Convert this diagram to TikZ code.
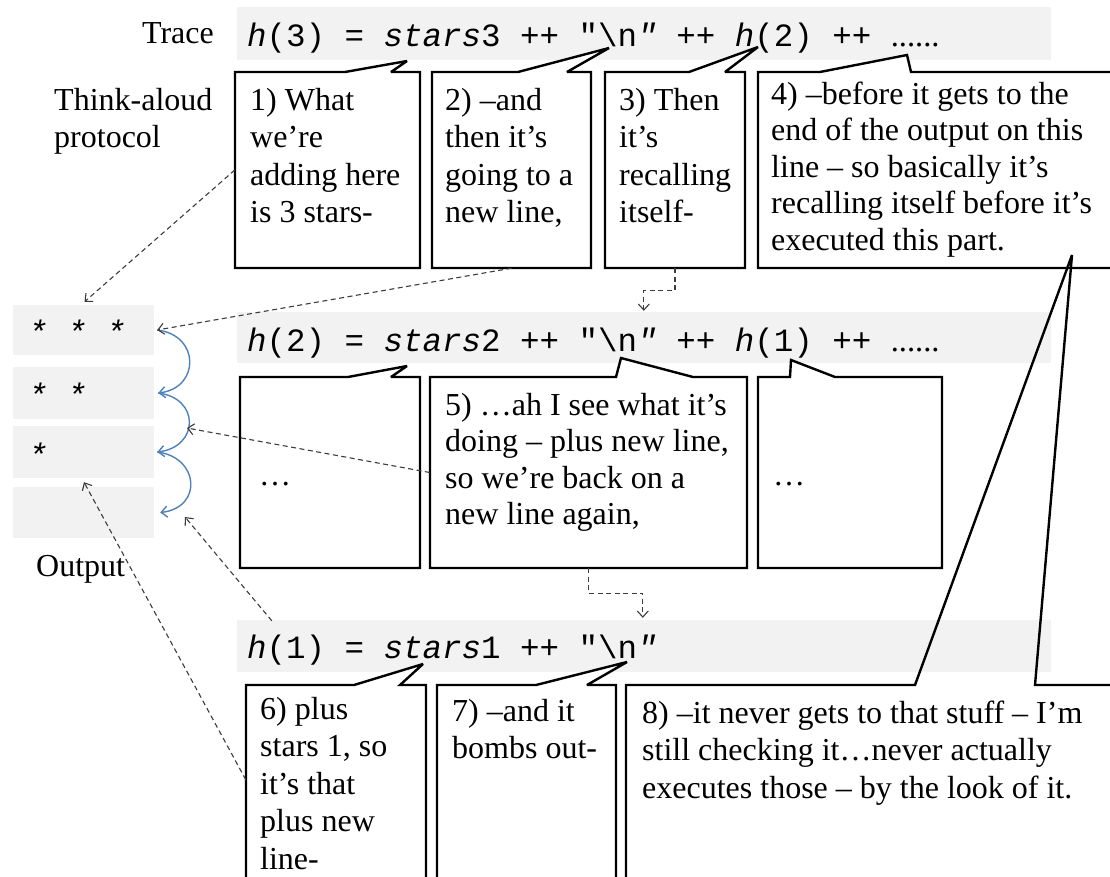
\documentclass[tikz,border=0pt]{standalone}
\usepackage{fontspec}
\setmainfont{Liberation Serif}
\setmonofont{Liberation Mono}
\usetikzlibrary{arrows.meta,calc,fit}

\definecolor{codegray}{RGB}{242,242,242}
\definecolor{arcblue}{RGB}{79,129,189}
\definecolor{dashgray}{RGB}{60,60,60}

% body text and code fonts
\newcommand\bodyfont{\fontsize{32}{37.5}\selectfont\rmfamily}
\newcommand\codefont{\fontsize{32.5}{37}\selectfont\ttfamily}
\newcommand\tlines[1]{\begin{tabular}[t]{@{}l@{}}#1\end{tabular}}

% speech bubble: name, x1, y1, x2, y2, wedge base 1, wedge base 2, tip x, tip y
\newcommand\bubble[9]{%
  \path[cline] (#2,#3) -- (#6,#3) -- (#8,#9) -- (#7,#3) -- (#4,#3) -- (#4,#5) -- (#2,#5) -- cycle;
  \node[frame, fit={(#2,#3) (#4,#5)}] (#1) {};
}

\begin{document}
\begin{tikzpicture}[x=1pt, y={(0pt,-1pt)},
  codebar/.style={fill=codegray, draw=none, inner sep=0pt},
  frame/.style={draw=none, inner sep=0pt},
  cline/.style={draw=black, fill=white, line width=2.4pt, line join=miter, miter limit=3},
  body/.style={font=\bodyfont, inner sep=0pt, anchor=base west},
  codetext/.style={font=\codefont, inner sep=0pt, anchor=base west},
  dline/.style={draw=dashgray, line width=1.1pt, dash pattern=on 5pt off 3.5pt,
    -{Straight Barb[length=6pt,width=11pt]}},
  arcline/.style={draw=arcblue, line width=1.4pt, -{Straight Barb[length=6pt,width=11pt]}}]

\useasboundingbox (0,0) rectangle (1110,876);
\clip (0,0) rectangle (1110,876);
\fill[white] (0,0) rectangle (1110,876);

% trace bars
\node[codebar, fit={(237,7) (1051,60)}] (bar1) {};
\node[codebar, fit={(237,312) (1051,363)}] (bar2) {};
\node[codebar, fit={(237,620) (1051,672)}] (bar3) {};

% output lines
\node[codebar, fit={(13,305) (154,355)}] (o1) {};
\node[codebar, fit={(13,367) (154,419)}] (o2) {};
\node[codebar, fit={(13,426) (154,478)}] (o3) {};
\node[codebar, fit={(13,487) (154,538)}] (o4) {};
\node[codetext] (s1) at (28,343) {\textit{* * *}};
\node[codetext] (s2) at (28,406) {\textit{* *}};
\node[codetext] (s3) at (28,466) {\textit{*}};

% side labels
\node[body, anchor=base east] (trace) at (214,43) {Trace};
\node[body] (think) at (54,110) {\tlines{Think-aloud\\ protocol}};
\node[body] (outlbl) at (36,576) {Output};

% first level of the trace
\bubble{c1}{235}{72}{420}{268}{345}{391}{407}{61}
\bubble{c2}{432}{72}{591}{268}{518}{567}{609}{48}
\bubble{c3}{605}{72}{745}{268}{689}{725}{758}{47}
\bubble{c4}{758}{72}{1125}{268}{820}{911}{907}{55}
\node[body] (tx1) at (250,110) {\tlines{1) What\\ we’re\\ adding here\\ is 3 stars-}};
\node[body] (tx2) at (445,110) {\tlines{2) –and\\ then it’s\\ going to a\\ new line,}};
\node[body] (tx3) at (619,110) {\tlines{3) Then\\ it’s\\ recalling\\ itself-}};
\node[body, font=\fontsize{32}{36.5}\selectfont] (tx4) at (771,104) {\tlines{4) –before it gets to the\\ end of the output on this\\ line – so basically it’s\\ recalling itself before it’s\\ executed this part.}};

% second level
\bubble{c5a}{240}{377}{420}{568}{348}{391}{407}{366}
\bubble{c5}{430}{377}{747}{568}{616}{693}{621}{358}
\bubble{c5c}{758}{377}{942}{568}{790}{835}{791}{360}
\node[body] (tx5a) at (259,485) {…};
\node[body, font=\fontsize{32}{36.5}\selectfont] (tx5) at (445,415) {\tlines{5) …ah I see what it’s\\ doing – plus new line,\\ so we’re back on a\\ new line again,}};
\node[body] (tx5c) at (773,485) {…};

% third level
\bubble{c6}{246}{685}{426}{890}{354}{400}{423}{664}
\bubble{c7}{437}{685}{616}{890}{536}{587}{627}{662}
\fill[white] (626,685) rectangle (1125,890);
\draw[cline, fill=none] (626,890) -- (626,685) -- (915,685) -- (1072,255) -- (1035,685) -- (1125,685);
\node[frame, fit={(626,685) (1125,890)}] (c8) {};
\node[body] (tx6) at (260,719) {\tlines{6) plus\\ stars 1, so\\ it’s that\\ plus new\\ line-}};
\node[body] (tx7) at (452,721) {\tlines{7) –and it\\ bombs out-}};
\node[body] (tx8) at (642,723) {\tlines{8) –it never gets to that stuff – I’m\\ still checking it…never actually\\ executes those – by the look of it.}};

% trace text
\node[codetext] (t1) at (247,46) {\textit{h}(3) = \textit{stars}3 ++ "\textbackslash n\textit{"} ++ \textit{h}(2) ++ {\rmfamily ......}};
\node[codetext] (t2) at (247,351) {\textit{h}(2) = \textit{stars}2 ++ "\textbackslash n\textit{"} ++ \textit{h}(1) ++ {\rmfamily ......}};
\node[codetext] (t3) at (247,658) {\textit{h}(1) = \textit{stars}1 ++ "\textbackslash n\textit{"}};

% links between output lines
\draw[arcline] ($(o1.east)+(3,0)$) .. controls +(43,5) and +(42,-5) .. ($(o2.east)+(4,0)$);
\draw[arcline] ($(o2.east)+(4,0)$) .. controls +(42,5) and +(42,-5) .. ($(o3.east)+(3,0)$);
\draw[arcline] ($(o3.east)+(3,0)$) .. controls +(42,5) and +(43,-5) .. ($(o4.east)+(6,0)$);

% remarks pointing at the output
\coordinate (j2) at (187,428);
\coordinate (j3) at (185,517);
\coordinate (h1) at ($(bar3.north west)+(35,1)$);
\coordinate (nl2) at ($(bar2.north west)+(407,-1)$);
\coordinate (nl3) at ($(bar3.north west)+(406,-2)$);
\draw[dline] (c1.west) -- ($(o1.north)+(1,-3)$);
\draw[dline] (c2.south) -- ($(o1.east)+(3,0)$);
\draw[dline] (c5.west) -- (j2);
\draw[dline] (h1) -- (j3);
\draw[dline] ($(c6.north west)+(0,95)$) -- ($(o3.south)+(0.5,4)$);

% descent into the recursive calls
\draw[dline] (c3.south) -- ++(0,22) -| (nl2);
\draw[dline] (c5.south) -- ++(0,25) -| (nl3);
\end{tikzpicture}
\end{document}
